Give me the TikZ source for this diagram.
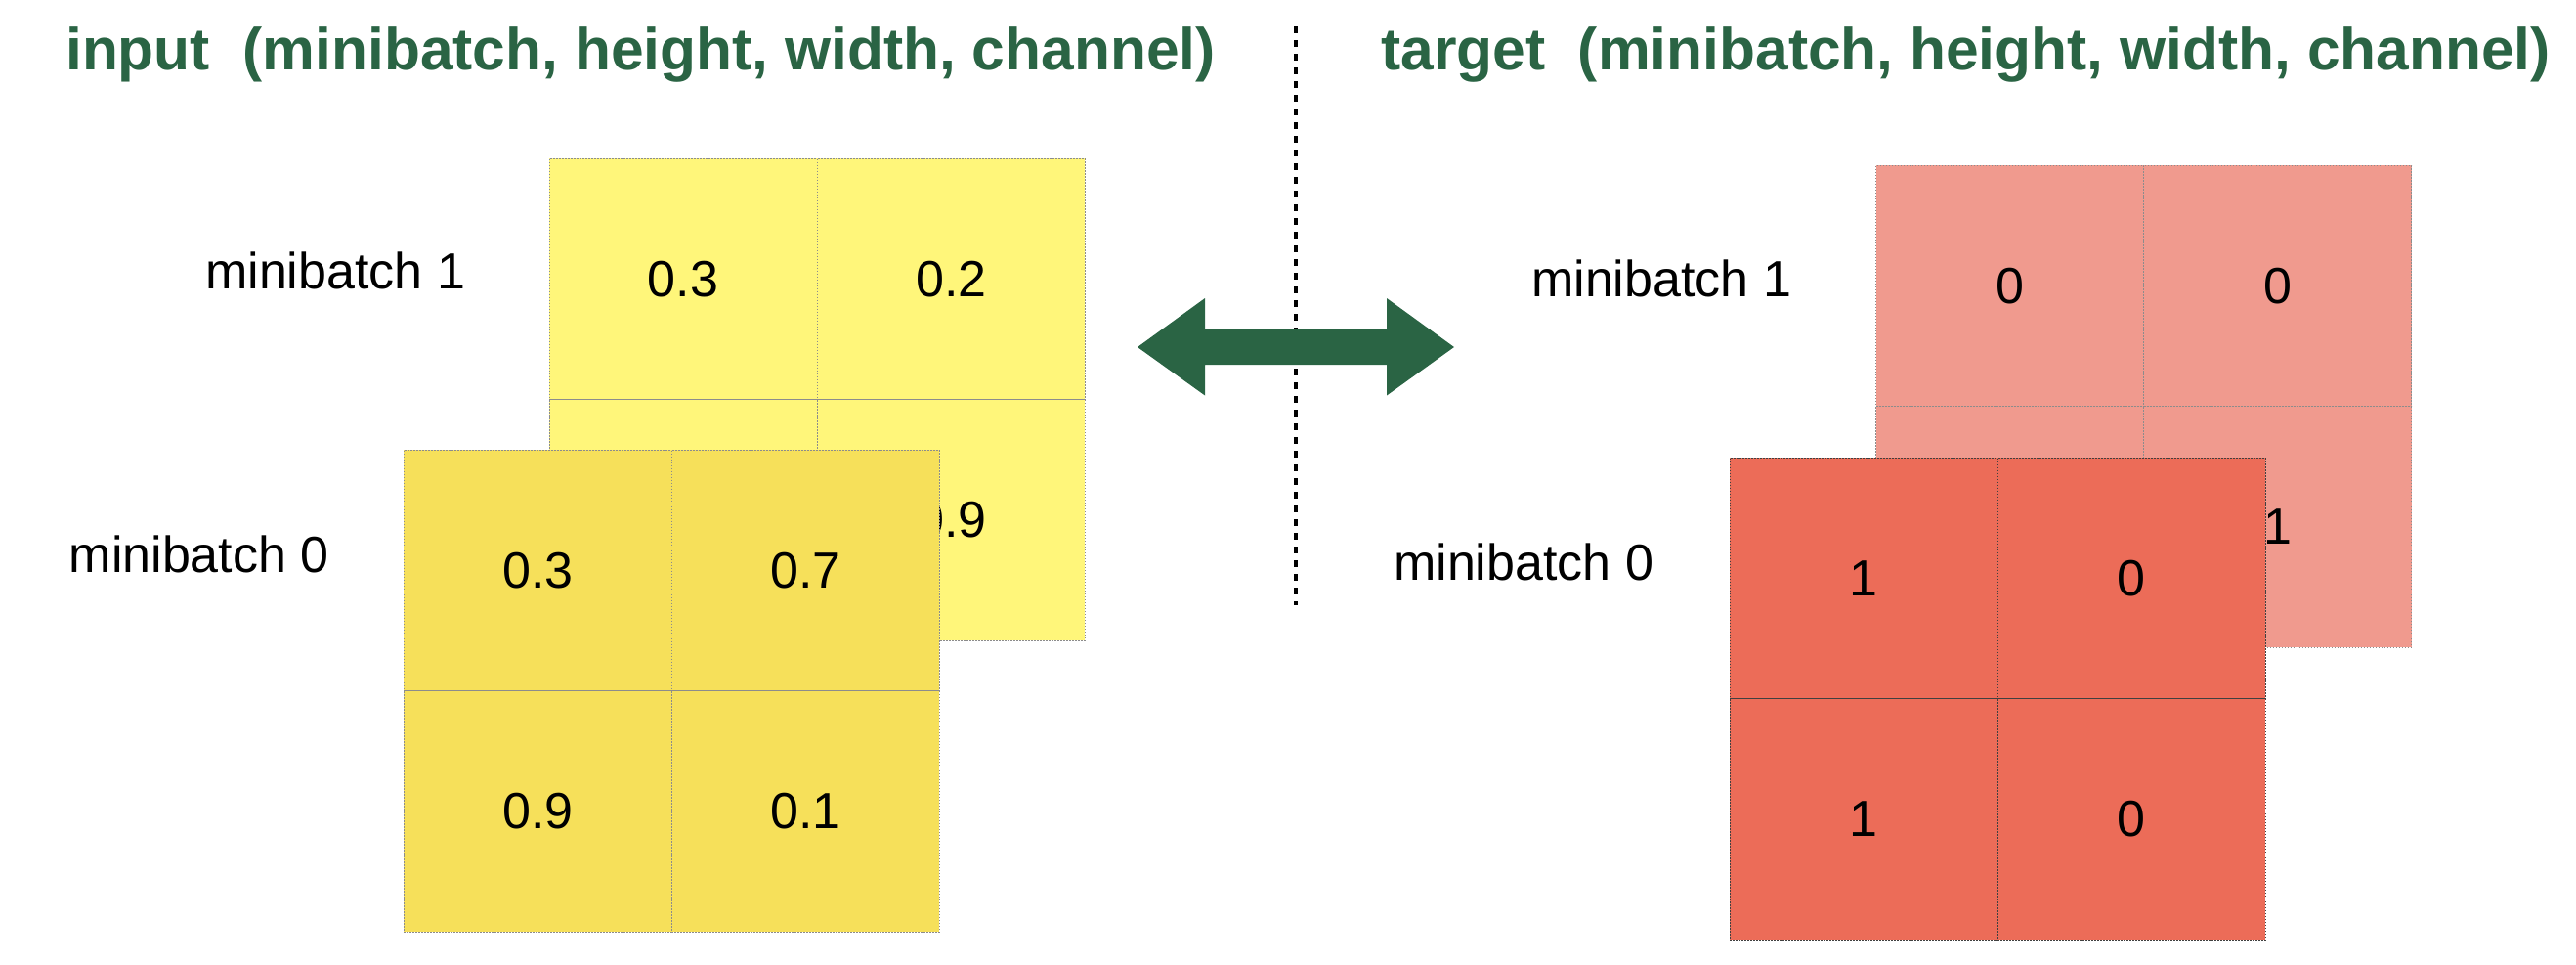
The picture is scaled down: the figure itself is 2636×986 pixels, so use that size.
\documentclass[tikz,border=0pt]{standalone}
\usepackage{fontspec}
\setmainfont{Liberation Sans}
\definecolor{titlegreen}{HTML}{2A6444}
\definecolor{backyellow}{HTML}{FFF67A}
\definecolor{frontyellow}{HTML}{F6E05A}
\definecolor{backpink}{HTML}{F09A8E}
\definecolor{frontred}{HTML}{EC6C58}
\tikzset{
  cellbox/.style={rectangle, minimum width=274pt, minimum height=246.5pt, inner sep=0pt,
    line width=1pt, dash pattern=on 1.5pt off 1.5pt, font=\fontsize{52}{60}\selectfont},
  ycellback/.style={cellbox, fill=backyellow, draw=black!45},
  ycellfront/.style={cellbox, fill=frontyellow, draw=black!45},
  pcellback/.style={cellbox, fill=backpink, draw=black!45},
  rcellfront/.style={cellbox, fill=frontred, draw=black!75},
  titletext/.style={anchor=base west, inner sep=0pt, text=titlegreen, font=\fontsize{60.5}{70}\selectfont\bfseries},
  labeltext/.style={anchor=base west, inner sep=0pt, font=\fontsize{52}{60}\selectfont},
}
\begin{document}
\begin{tikzpicture}[x=1pt, y=-1pt]
\useasboundingbox (0,0) rectangle (2636,986);

% titles
\node[titletext] (tin) at (67,71) {input\ \ (minibatch, height, width, channel)};
\node[titletext] (ttg) at (1413,71) {target\ \ (minibatch, height, width, channel)};

% separator
\coordinate (septop) at (1325.7,27);
\coordinate (sepbot) at (1325.7,619);
\draw[line width=4pt, dash pattern=on 7pt off 7pt] (septop) -- (sepbot);

% double arrow
\fill[titlegreen] (1164,355) -- (1233,305) -- (1233,337) -- (1419,337) -- (1419,305)
  -- (1488,355) -- (1419,404.5) -- (1419,373) -- (1233,373) -- (1233,404.5) -- cycle;

% input, minibatch 1 (back)
\node[ycellback] (yb11) at (699,285.3) {0.3};
\node[ycellback] (yb12) at (973.3,285.3) {0.2};
\node[ycellback] (yb21) at (699,531.8) {};
\node[ycellback] (yb22) at (973.3,531.8) {0.9};
% input, minibatch 0 (front)
\node[ycellfront] (yf11) at (550.3,583.3) {0.3};
\node[ycellfront] (yf12) at (824.3,583.3) {0.7};
\node[ycellfront] (yf21) at (550.3,829.8) {0.9};
\node[ycellfront] (yf22) at (824.3,829.8) {0.1};

% target, minibatch 1 (back)
\node[pcellback] (pb11) at (2056.5,292.6) {0};
\node[pcellback] (pb12) at (2330.5,292.6) {0};
\node[pcellback] (pb21) at (2056.5,539) {};
\node[pcellback] (pb22) at (2330.5,539) {1};
% target, minibatch 0 (front)
\node[rcellfront] (rf11) at (1907,591.3) {1};
\node[rcellfront] (rf12) at (2181,591.3) {0};
\node[rcellfront] (rf21) at (1907,837.8) {1};
\node[rcellfront] (rf22) at (2181,837.8) {0};

% labels
\node[labeltext] (lin1) at (210,295) {minibatch 1};
\node[labeltext] (lin0) at (70.5,585) {minibatch 0};
\node[labeltext] (ltg1) at (1567,303) {minibatch 1};
\node[labeltext] (ltg0) at (1426,593) {minibatch 0};
\end{tikzpicture}
\end{document}
